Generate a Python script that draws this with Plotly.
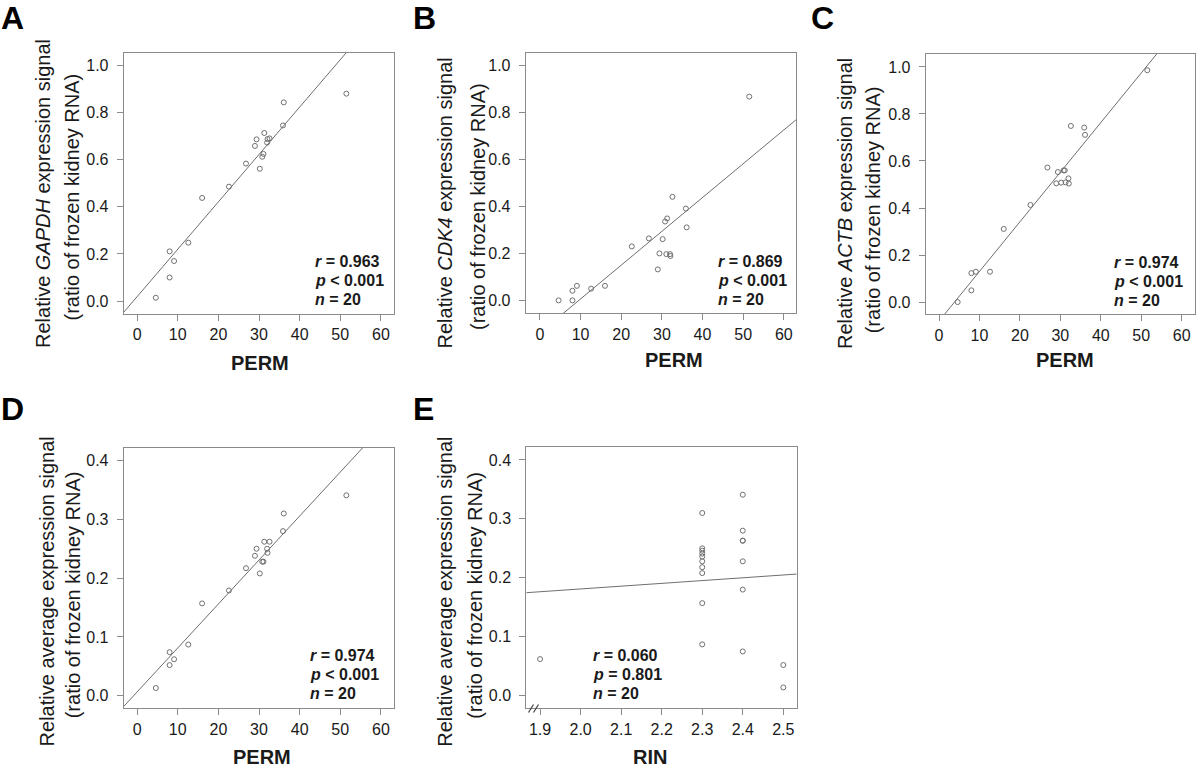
import numpy as np
import plotly.graph_objects as go

# ---------------- data ----------------
perm = [4.6, 8.0, 8.0, 9.1, 12.6, 16.0, 22.6, 26.8, 29.0, 29.4,
        30.2, 30.8, 31.1, 31.3, 32.0, 32.1, 32.6, 35.9, 36.1, 51.5]

gapdh = [0.014, 0.211, 0.100, 0.170, 0.248, 0.438, 0.486, 0.584, 0.659, 0.687,
         0.562, 0.613, 0.625, 0.714, 0.673, 0.688, 0.691, 0.746, 0.844, 0.881]

cdk4 = [0.000, 0.000, 0.041, 0.062, 0.050, 0.062, 0.230, 0.264, 0.132, 0.200,
        0.261, 0.336, 0.197, 0.349, 0.197, 0.189, 0.441, 0.391, 0.311, 0.868]

actb = [0.000, 0.050, 0.123, 0.129, 0.129, 0.311, 0.413, 0.572, 0.505, 0.553,
        0.508, 0.560, 0.560, 0.509, 0.526, 0.504, 0.749, 0.742, 0.711, 0.986]

average = [0.013, 0.074, 0.052, 0.062, 0.087, 0.157, 0.179, 0.217, 0.238, 0.250,
           0.208, 0.228, 0.228, 0.262, 0.250, 0.243, 0.262, 0.280, 0.310, 0.341]

rin = [1.9, 2.3, 2.3, 2.3, 2.3, 2.3, 2.3, 2.3, 2.3, 2.3,
       2.3, 2.4, 2.4, 2.4, 2.4, 2.4, 2.4, 2.4, 2.5, 2.5]
avg_by_rin = [0.062, 0.310, 0.250, 0.246, 0.241, 0.236, 0.228, 0.218, 0.208, 0.157,
              0.087, 0.341, 0.280, 0.263, 0.263, 0.228, 0.180, 0.075, 0.052, 0.014]

panel_letters = ["A", "B", "C", "D", "E"]
stats_r = ["0.963", "0.869", "0.974", "0.974", "0.060"]
stats_p = ["< 0.001", "< 0.001", "< 0.001", "< 0.001", "= 0.801"]
stats_n = ["20", "20", "20", "20", "20"]
ytitle_line1 = ["Relative <i>GAPDH</i> expression signal",
                "Relative <i>CDK4</i> expression signal",
                "Relative <i>ACTB</i> expression signal",
                "Relative average expression signal",
                "Relative average expression signal"]
ytitle_line2 = "(ratio of frozen kidney RNA)"
xtitles = ["PERM", "PERM", "PERM", "PERM", "RIN"]

# ---------------- layout geometry (pixels) ----------------
W, H = 1200, 768
FONT = "Arial, Liberation Sans, sans-serif"
GRAY_BOX = "#8a8a8a"
TXT = "#1a1a1a"

panels = [
    dict(x=perm, y=gapdh, box=(123.7, 394.3, 52.7, 314.0), xr=[-3.3, 63.3], yr=[-0.055, 1.055],
         yt=[0, 0.2, 0.4, 0.6, 0.8, 1.0], xt=[0, 10, 20, 30, 40, 50, 60],
         stat_xy=(313, 260.3), yt1=(43, 194), yt2=(72, 197.5), xt_xy=(260, 362.7), let_xy=(12.5, 17.5)),
    dict(x=perm, y=cdk4, box=(525.7, 796.0, 52.7, 313.3), xr=[-3.5, 63.0], yr=[-0.055, 1.055],
         yt=[0, 0.2, 0.4, 0.6, 0.8, 1.0], xt=[0, 10, 20, 30, 40, 50, 60],
         stat_xy=(715.7, 260.3), yt1=(445, 203.5), yt2=(477.3, 206.7), xt_xy=(673.8, 360), let_xy=(424, 18)),
    dict(x=perm, y=actb, box=(925.7, 1195.0, 54.0, 314.3), xr=[-3.3, 63.3], yr=[-0.052, 1.055],
         yt=[0, 0.2, 0.4, 0.6, 0.8, 1.0], xt=[0, 10, 20, 30, 40, 50, 60],
         stat_xy=(1111.7, 261.3), yt1=(845, 204), yt2=(873.3, 210), xt_xy=(1064.5, 360), let_xy=(822.5, 18)),
    dict(x=perm, y=average, box=(123.7, 394.3, 448.0, 708.3), xr=[-3.3, 63.3], yr=[-0.0215, 0.4215],
         yt=[0, 0.1, 0.2, 0.3, 0.4], xt=[0, 10, 20, 30, 40, 50, 60],
         stat_xy=(308.3, 654.7), yt1=(46.7, 591.7), yt2=(73.3, 595), xt_xy=(262.3, 756.5), let_xy=(12, 408.5)),
    dict(x=rin, y=avg_by_rin, box=(526.3, 796.7, 447.3, 708.3), xr=[1.866, 2.533], yr=[-0.0215, 0.4215],
         yt=[0, 0.1, 0.2, 0.3, 0.4], xt=[1.9, 2.0, 2.1, 2.2, 2.3, 2.4, 2.5],
         stat_xy=(590.7, 654.7), yt1=(445, 591.7), yt2=(475, 595.8), xt_xy=(650.3, 756.5), let_xy=(423, 408.5)),
]


def px(xp):
    return xp / W


def py(yp):
    return 1 - yp / H


fig = go.Figure()
annotations = []
shapes = []

for i, p in enumerate(panels):
    k = "" if i == 0 else str(i + 1)
    xa, ya = "x" + k, "y" + k
    x0, x1, y0, y1 = p["box"]

    # fitted regression line over the axis range
    slope, intercept = np.polyfit(np.array(p["x"]), np.array(p["y"]), 1)
    lx = np.array(p["xr"])
    fig.add_trace(go.Scatter(x=lx, y=intercept + slope * lx, mode="lines",
                             line=dict(color="#6e6e6e", width=1),
                             xaxis=xa, yaxis=ya, showlegend=False, hoverinfo="skip"))
    fig.add_trace(go.Scatter(x=p["x"], y=p["y"], mode="markers",
                             marker=dict(symbol="circle-open", size=5, color="#707070",
                                         line=dict(width=1, color="#707070")),
                             xaxis=xa, yaxis=ya, showlegend=False, cliponaxis=False))

    axis_common = dict(showgrid=False, zeroline=False, showline=True, mirror=True,
                       linecolor=GRAY_BOX, linewidth=1, ticks="outside", ticklen=6,
                       tickcolor=GRAY_BOX, tickwidth=1,
                       tickfont=dict(family=FONT, size=16, color=TXT))
    fig.layout["xaxis" + k] = dict(axis_common, domain=[px(x0), px(x1)], range=p["xr"],
                                   anchor=ya, tickvals=p["xt"], ticklabelstandoff=0,
                                   tickformat=".1f" if i == 4 else "d")
    fig.layout["yaxis" + k] = dict(axis_common, domain=[py(y1), py(y0)], range=p["yr"],
                                   anchor=xa, tickvals=p["yt"], ticklabelstandoff=5,
                                   tickformat=".1f")

    # statistics text
    sx, sy = p["stat_xy"]
    lines = [f"<b><i>r</i> = {stats_r[i]}</b>", f"<b><i>p</i> {stats_p[i]}</b>",
             f"<b><i>n</i> = {stats_n[i]}</b>"]
    for j, t in enumerate(lines):
        annotations.append(dict(x=px(sx), y=py(sy + j * 18.85 + 1), xref="paper", yref="paper",
                                text=t, showarrow=False, xanchor="left", yanchor="middle",
                                font=dict(family=FONT, size=16, color=TXT)))
    # y titles
    for (tx, ty), t in ((p["yt1"], ytitle_line1[i]), (p["yt2"], ytitle_line2)):
        annotations.append(dict(x=px(tx), y=py(ty), xref="paper", yref="paper", text=t,
                                showarrow=False, textangle=-90, xanchor="center", yanchor="middle",
                                font=dict(family=FONT, size=20, color=TXT)))
    # x title
    annotations.append(dict(x=px(p["xt_xy"][0]), y=py(p["xt_xy"][1]), xref="paper", yref="paper",
                            text=f"<b>{xtitles[i]}</b>", showarrow=False, borderpad=0,
                            xanchor="center", yanchor="middle",
                            font=dict(family=FONT, size=20, color=TXT)))
    # panel letter
    annotations.append(dict(x=px(p["let_xy"][0]), y=py(p["let_xy"][1]), xref="paper", yref="paper",
                            text=f"<b>{panel_letters[i]}</b>", showarrow=False,
                            xanchor="center", yanchor="middle",
                            font=dict(family=FONT, size=32, color="#000000")))

# axis-break mark on panel E
for dx in (0, 5):
    shapes.append(dict(type="line", xref="paper", yref="paper",
                       x0=px(528.5 + dx), y0=py(712.5), x1=px(533.5 + dx), y1=py(704.5),
                       line=dict(color="#444444", width=1.2)))

fig.update_layout(width=W, height=H, margin=dict(l=0, r=0, t=0, b=0),
                  paper_bgcolor="white", plot_bgcolor="white",
                  annotations=annotations, shapes=shapes, showlegend=False)

# remove the default 8px page margin so the figure sits at the window's corner
fig.write_html("out.html", config={"displayModeBar": False},
               post_script="document.body.style.margin='0';document.body.style.padding='0';")
